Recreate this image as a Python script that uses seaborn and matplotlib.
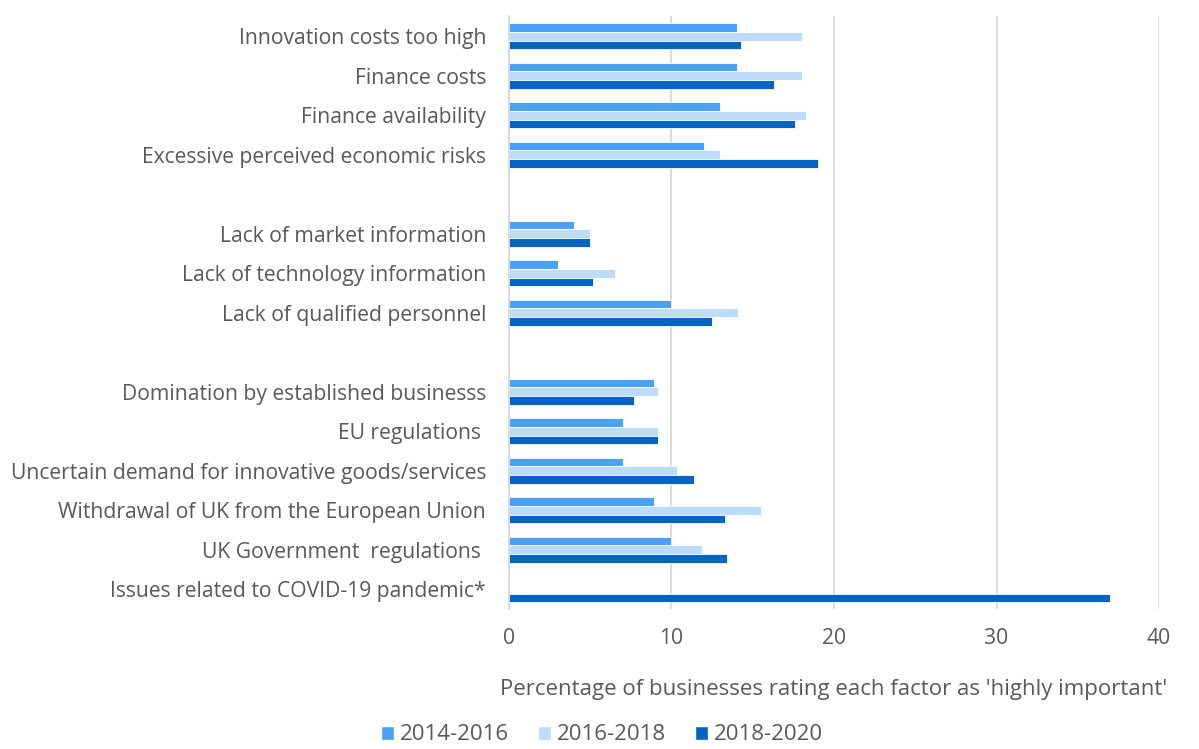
import numpy as np
import pandas as pd
import matplotlib
matplotlib.use("Agg")
import matplotlib.pyplot as plt
import seaborn as sns
from matplotlib.patches import Patch

# categories (blank entries are spacer rows between groups)
factors = [
    "Innovation costs too high",
    "Finance costs",
    "Finance availability",
    "Excessive perceived economic risks",
    " ",
    "Lack of market information",
    "Lack of technology information",
    "Lack of qualified personnel",
    "  ",
    "Domination by established businesss",
    "EU regulations ",
    "Uncertain demand for innovative goods/services",
    "Withdrawal of UK from the European Union",
    "UK Government  regulations ",
    "Issues related to COVID-19 pandemic*",
]
periods = ["2014-2016", "2016-2018", "2018-2020"]

v_2014_2016 = [14.0, 14.0, 13.0, 12.0, np.nan, 4.0, 3.0, 10.0, np.nan, 8.9, 7.0, 7.0, 8.9, 10.0, np.nan]
v_2016_2018 = [18.0, 18.0, 18.3, 13.0, np.nan, 5.0, 6.5, 14.1, np.nan, 9.15, 9.2, 10.35, 15.5, 11.85, np.nan]
v_2018_2020 = [14.3, 16.3, 17.6, 19.0, np.nan, 5.0, 5.2, 12.5, np.nan, 7.7, 9.15, 11.4, 13.3, 13.4, 37.0]

colors = ["#4ba1f5", "#bcdcfa", "#0563c1"]

df = pd.DataFrame({
    "factor": factors * 3,
    "period": np.repeat(periods, len(factors)),
    "value": v_2014_2016 + v_2016_2018 + v_2018_2020,
})

sns.set_style("white")
plt.rcParams["font.family"] = ["Open Sans", "DejaVu Sans"]
text_col = "#595959"

fig, ax = plt.subplots(figsize=(11.99, 7.49), dpi=100)
fig.subplots_adjust(left=0.4245, right=0.9667, top=0.978, bottom=0.187)

sns.barplot(data=df, y="factor", x="value", hue="period", order=factors,
            hue_order=periods, palette=colors, saturation=1, orient="h", width=0.66,
            edgecolor="white", linewidth=0.6, legend=False, ax=ax, err_kws={"linewidth": 0})

ax.set_xlim(0, 40)
ax.set_xticks([0, 10, 20, 30, 40])
ax.xaxis.grid(True, color="#d9d9d9", linewidth=1.3)
ax.set_axisbelow(True)
for s in ["top", "right", "bottom"]:
    ax.spines[s].set_visible(False)
ax.spines["left"].set_color("#d9d9d9")
ax.spines["left"].set_linewidth(1.3)
ax.tick_params(axis="y", length=0, labelsize=15.2, colors=text_col, pad=16.5)
ax.tick_params(axis="x", length=0, labelsize=15.2, colors=text_col, pad=14)
ax.set_ylabel("")
ax.set_xlabel("Percentage of businesses rating each factor as 'highly important'",
              fontsize=16, color=text_col, labelpad=21)

handles = [Patch(facecolor=c, edgecolor="white", label=p) for c, p in zip(colors, periods)]
fig.legend(handles=handles, loc="lower center", bbox_to_anchor=(0.502, -0.022), ncol=3,
           frameon=False, fontsize=16, handlelength=0.6, handleheight=0.6,
           handletextpad=0.25, columnspacing=1.3, labelcolor=text_col)

fig.savefig("out.png", dpi=100)
